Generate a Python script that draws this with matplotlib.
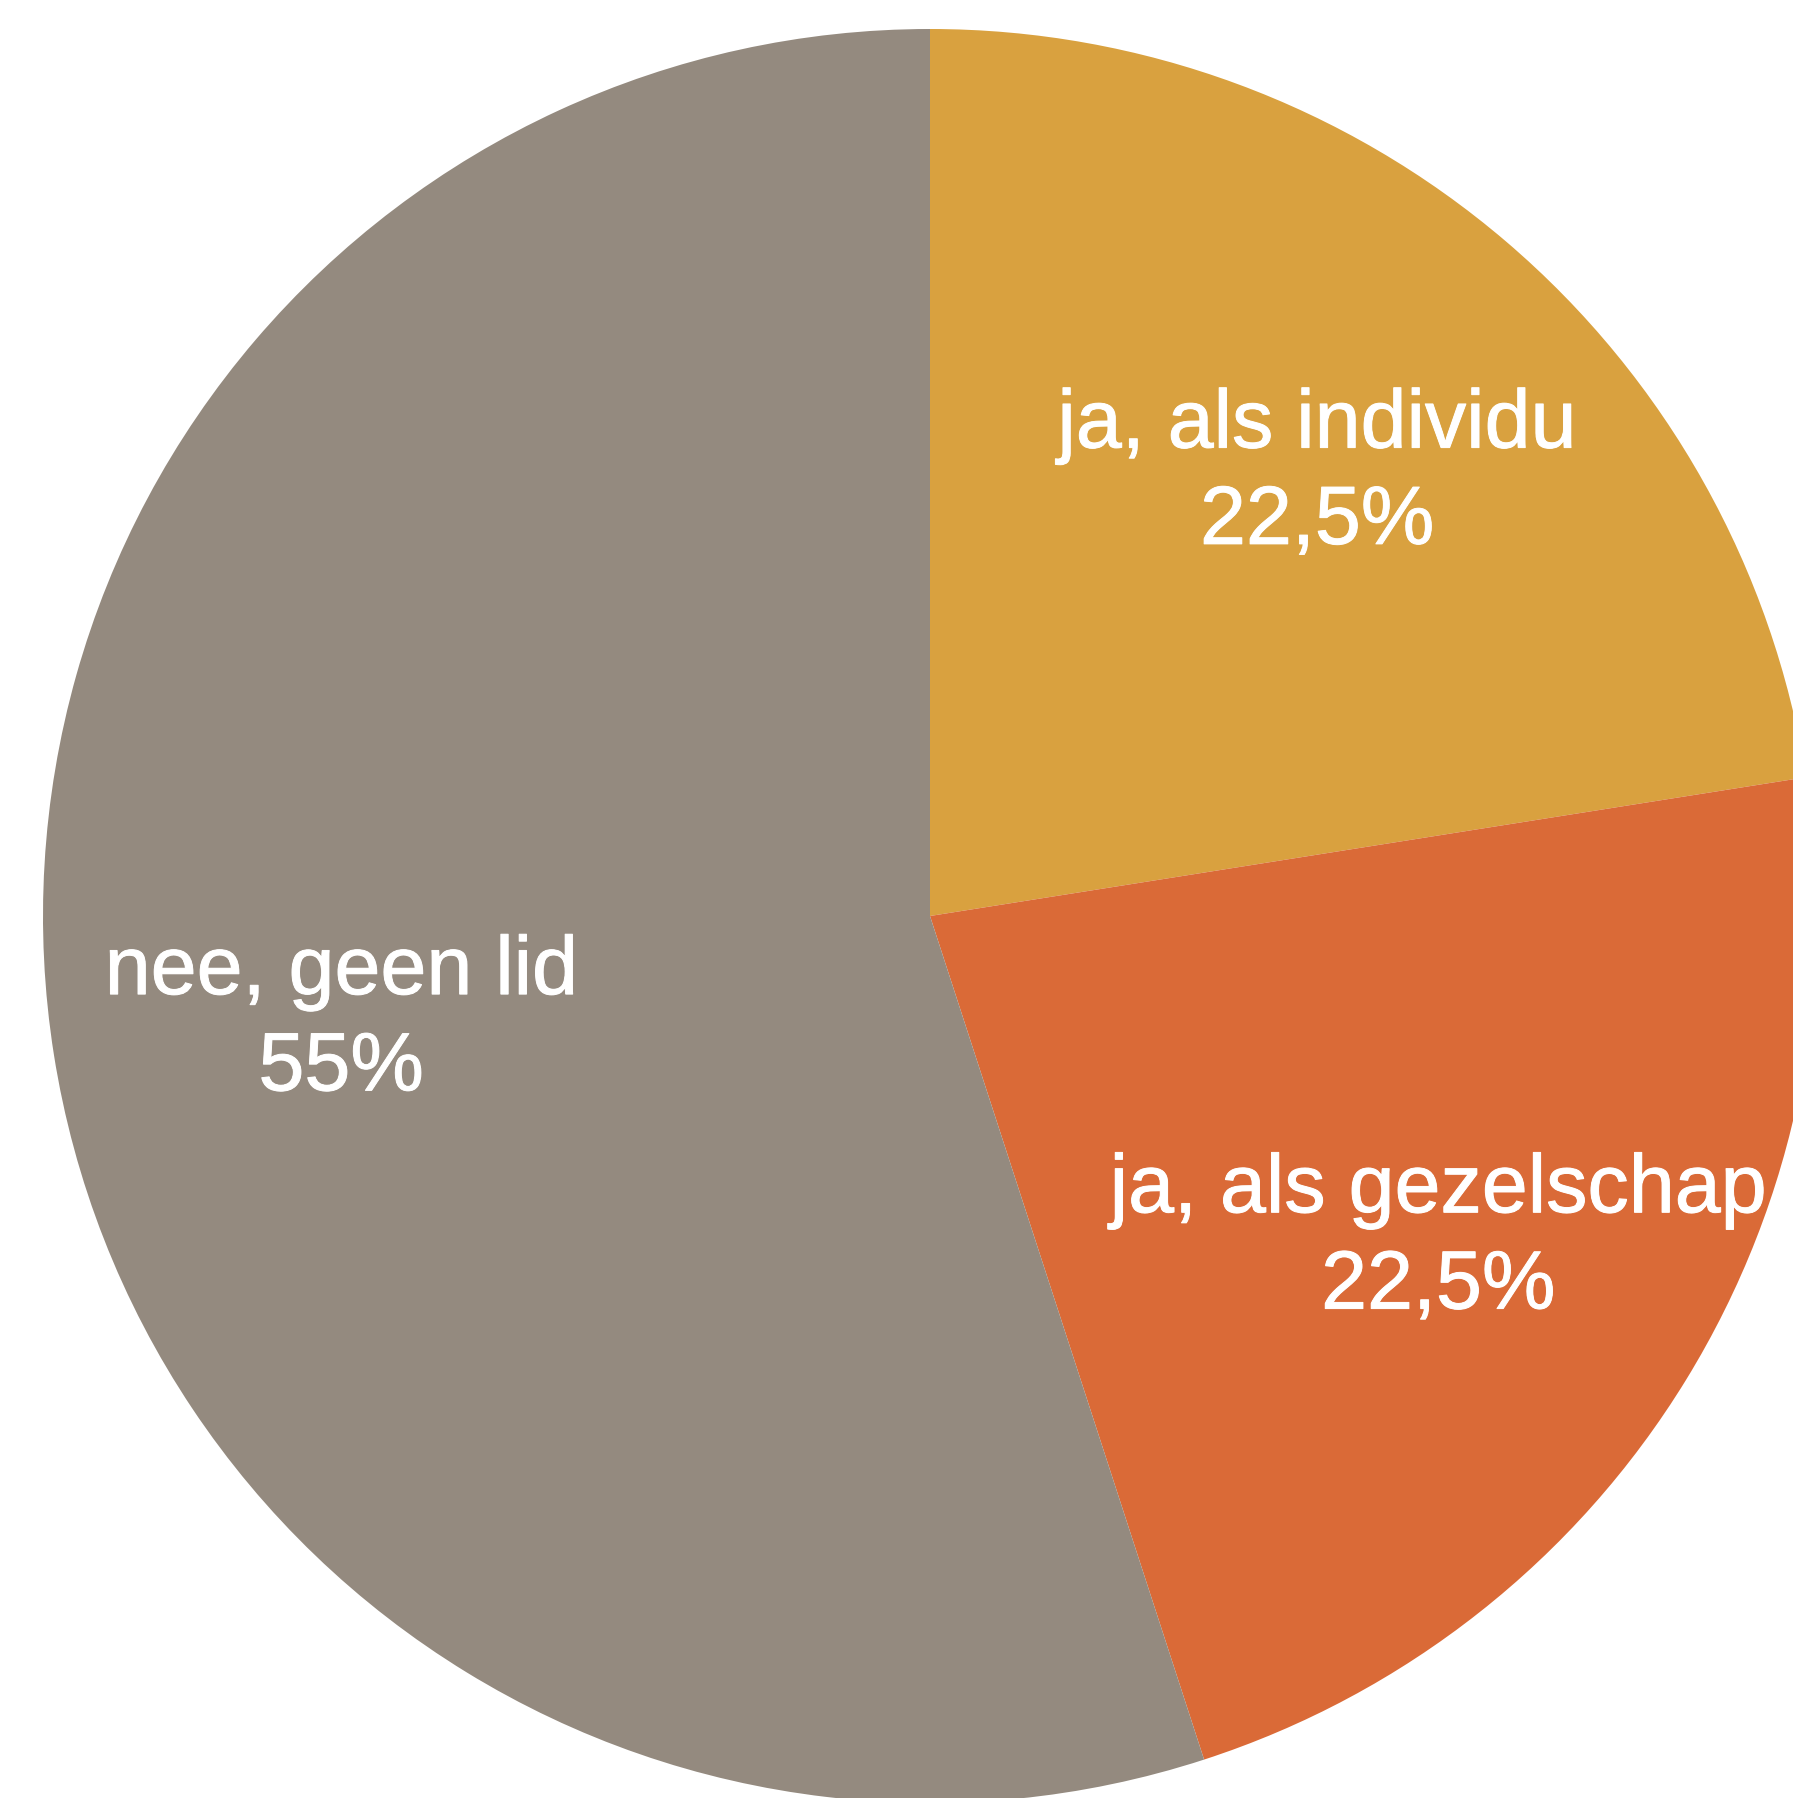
import matplotlib
matplotlib.use("Agg")
import matplotlib.pyplot as plt
import matplotlib.patheffects as pe
import matplotlib.transforms as mtransforms

categories = ["ja, als individu", "ja, als gezelschap", "nee, geen lid"]
values = [22.5, 22.5, 55]
value_labels = ["22,5%", "22,5%", "55%"]
colors = ["#D9A13F", "#DA6A37", "#948A7F"]

W, H = 1793, 1798
fig = plt.figure(figsize=(W / 100, H / 100), dpi=100)
ax = fig.add_axes([0, 0, 1, 1])

labels = [f"{c}\n{v}" for c, v in zip(categories, value_labels)]
wedges, texts = ax.pie(values, colors=colors, labels=labels, startangle=90, counterclock=False,
       center=(930, H - 916), radius=887, labeldistance=0.672,
       wedgeprops=dict(linewidth=0),
       textprops=dict(color="white", fontsize=59.5, family="Liberation Sans",
                      ha="center", va="center", multialignment="center",
                      linespacing=1.3,
                      path_effects=[pe.withStroke(linewidth=0.7, foreground="white")]))
shift = mtransforms.offset_copy(ax.transData, fig=fig, x=0, y=-11, units="dots")
for t in texts:
    t.set_transform(shift)
ax.set_xlim(0, W)
ax.set_ylim(0, H)
ax.set_aspect("equal")
ax.axis("off")
fig.savefig("out.png", dpi=100, facecolor="white")
